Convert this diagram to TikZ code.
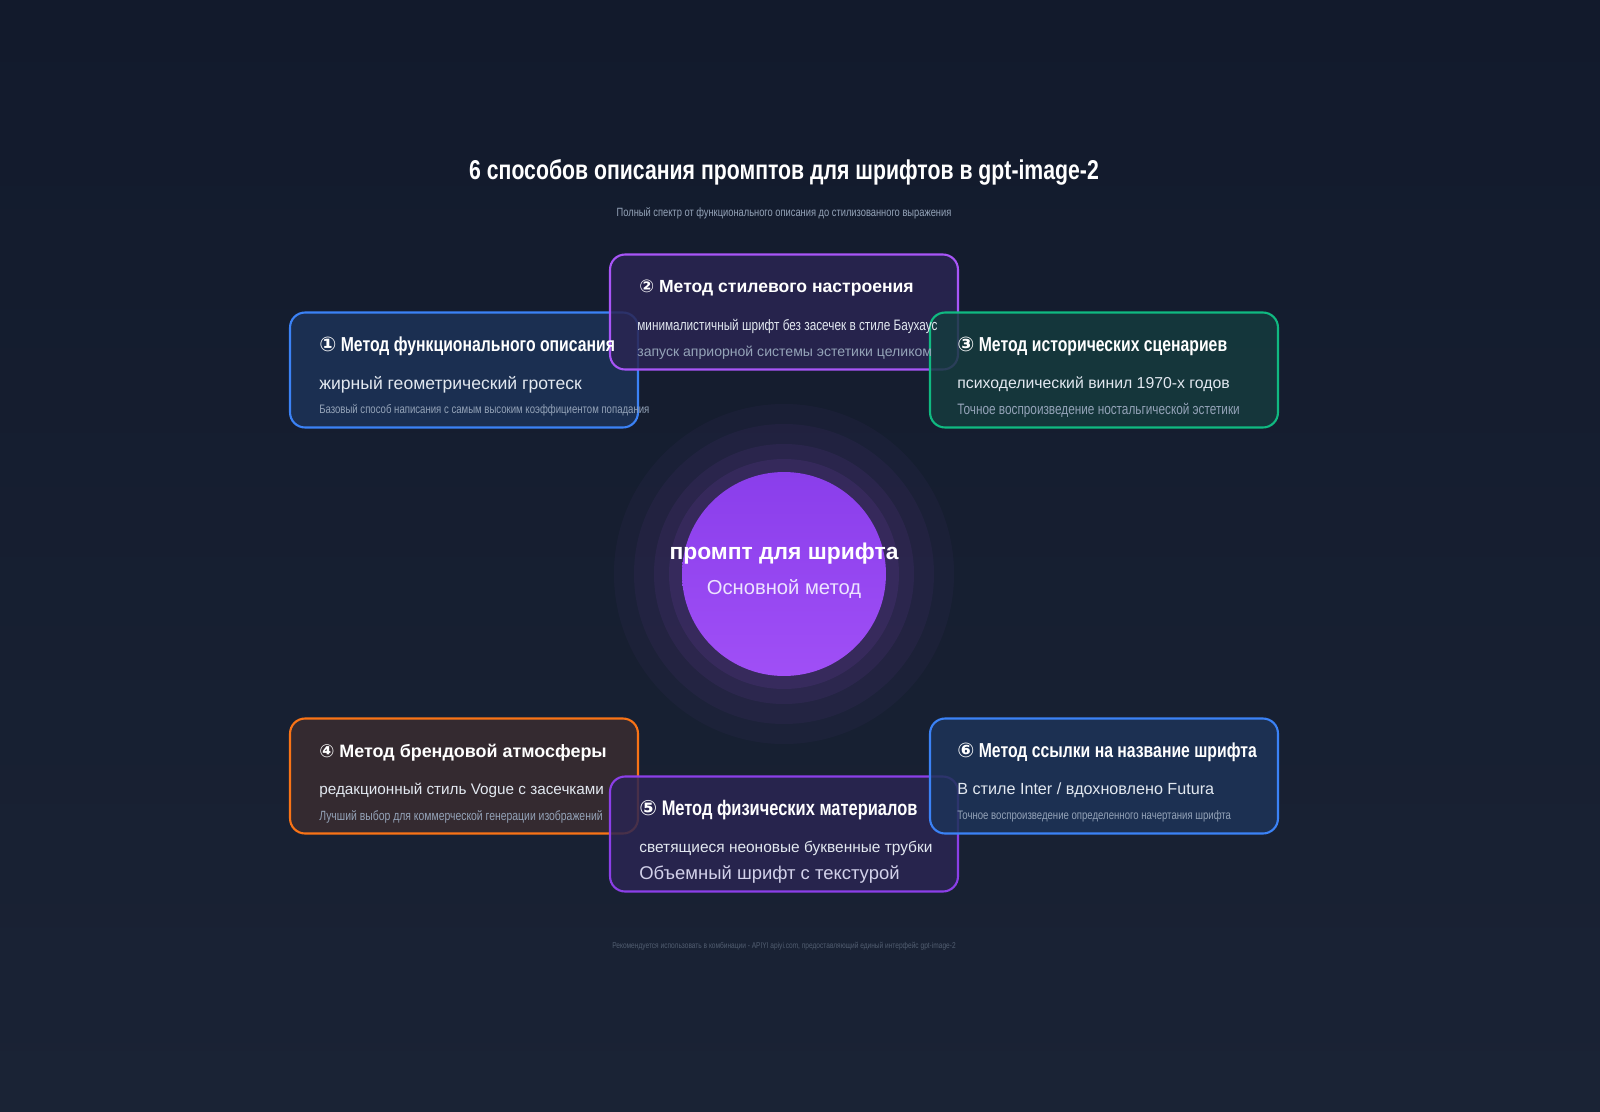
\documentclass[tikz,border=0pt]{standalone}
\usepackage{fontspec}
\setmainfont{Liberation Sans}
\newfontfamily\condf[FakeStretch=0.78]{Liberation Sans}
\newfontfamily\symf{DejaVu Sans}
\usetikzlibrary{calc,positioning,backgrounds}
\definecolor{bgtop}{HTML}{121A2C}
\definecolor{bgbot}{HTML}{1A2335}
\definecolor{linkc}{HTML}{4B5A70}
\definecolor{subc}{HTML}{94A3B8}
\definecolor{mainc}{HTML}{E2E8F0}
\definecolor{cblue}{HTML}{3B82F6}
\definecolor{cpurple}{HTML}{A855F7}
\definecolor{cviolet}{HTML}{8B3FE8}
\definecolor{cgreen}{HTML}{10B981}
\definecolor{corange}{HTML}{F97316}
\definecolor{fblue}{HTML}{1D3358}
\definecolor{fpurple}{HTML}{2A2552}
\definecolor{fgreen}{HTML}{153B3E}
\definecolor{forange}{HTML}{3A2C30}
\definecolor{hubtop}{HTML}{8A3EEB}
\definecolor{hubbot}{HTML}{A04FF6}
\definecolor{hubtext}{HTML}{EDE4FF}
\begin{document}
\begin{tikzpicture}[x=0.02cm,y=-0.02cm,
  card/.style={rectangle,rounded corners=0.3cm,line width=1.2pt,minimum width=6.96cm,minimum height=2.3cm,inner sep=0},
  link/.style={color=linkc,line width=0.8pt,dash pattern=on 4pt off 4pt},
  head/.style={anchor=west,text=white,inner sep=0},
  body/.style={anchor=west,text=mainc,inner sep=0},
  note/.style={anchor=west,text=subc,inner sep=0}]
	%%background
	\useasboundingbox (0,0) rectangle (1600,1112);
	\shade [top color=bgtop,bottom color=bgbot] (0,0) rectangle (1600,1112);
	%%glow round the hub
	\foreach \r/\o in {170/0.04,150/0.05,130/0.07,115/0.09}
		\fill [cpurple,opacity=\o] (784,574) circle (\r);
	%%hub
	\node [circle,minimum size=4.08cm,top color=hubtop,bottom color=hubbot,inner sep=0] (hub) at (784,574) {};
	\node [text=white,font=\bfseries\fontsize{13}{15}\selectfont] (hubtitle) at (784,554) {промпт для шрифта};
	\node [text=hubtext,font=\fontsize{11.5}{14}\selectfont] (hubsub) at (784,589) {Основной метод};
	%%cards
	\node [card,draw=cblue,fill=fblue,fill opacity=0.85] (func) at (464,370) {};
	\node [card,draw=cpurple,fill=fpurple,fill opacity=0.85] (mood) at (784,312) {};
	\node [card,draw=cgreen,fill=fgreen,fill opacity=0.85] (hist) at (1104,370) {};
	\node [card,draw=corange,fill=forange,fill opacity=0.85] (brand) at (464,776) {};
	\node [card,draw=cviolet,fill=fpurple,fill opacity=0.85] (matl) at (784,834) {};
	\node [card,draw=cblue,fill=fblue,fill opacity=0.85] (fname) at (1104,776) {};
	%%links
	\begin{pgfonlayer}{background}
		\foreach \c in {func,mood,hist,brand,matl,fname}
			\draw [link] (hub) -- (\c);
	\end{pgfonlayer}
	%%title
	\node [text=white,font=\condf\bfseries\fontsize{15.5}{18}\selectfont] (title) at (784,172) {6 способов описания промптов для шрифтов в gpt-image-2};
	\node [text=subc,font=\condf\fontsize{6.8}{8}\selectfont] (subtitle) at (784,213) {Полный спектр от функционального описания до стилизованного выражения};
	%%card texts
	\node [head,font=\condf\bfseries\fontsize{11.5}{14}\selectfont] (funcA) at ($(func.north west)+(30,35)$) {{\symf ①} Метод функционального описания};
	\node [body,font=\fontsize{10}{12}\selectfont] (funcB) at ($(func.north west)+(30,73)$) {жирный геометрический гротеск};
	\node [note,font=\condf\fontsize{7}{9}\selectfont] (funcC) at ($(func.north west)+(30,99)$) {Базовый способ написания с самым высоким коэффициентом попадания};
	\node [head,font=\bfseries\fontsize{10}{12}\selectfont] (moodA) at ($(mood.north west)+(30,35)$) {{\symf ②} Метод стилевого настроения};
	\node [body,font=\condf\fontsize{8.6}{10}\selectfont] (moodB) at ($(mood.north west)+(28,73)$) {минималистичный шрифт без засечек в стиле Баухаус};
	\node [note,font=\fontsize{8}{10}\selectfont] (moodC) at ($(mood.north west)+(28,99)$) {запуск априорной системы эстетики целиком};
	\node [head,font=\condf\bfseries\fontsize{11.5}{14}\selectfont] (histA) at ($(hist.north west)+(28,35)$) {{\symf ③} Метод исторических сценариев};
	\node [body,font=\fontsize{9}{11}\selectfont] (histB) at ($(hist.north west)+(28,73)$) {психоделический винил 1970-х годов};
	\node [note,font=\condf\fontsize{8.6}{10}\selectfont] (histC) at ($(hist.north west)+(28,99)$) {Точное воспроизведение ностальгической эстетики};
	\node [head,font=\bfseries\fontsize{10.2}{12}\selectfont] (brandA) at ($(brand.north west)+(30,35)$) {{\symf ④} Метод брендовой атмосферы};
	\node [body,font=\fontsize{8.7}{10}\selectfont] (brandB) at ($(brand.north west)+(30,73)$) {редакционный стиль Vogue с засечками};
	\node [note,font=\condf\fontsize{7.6}{9}\selectfont] (brandC) at ($(brand.north west)+(30,99)$) {Лучший выбор для коммерческой генерации изображений};
	\node [head,font=\condf\bfseries\fontsize{12}{14}\selectfont] (matlA) at ($(matl.north west)+(30,35)$) {{\symf ⑤} Метод физических материалов};
	\node [body,font=\fontsize{8.8}{10}\selectfont] (matlB) at ($(matl.north west)+(30,73)$) {светящиеся неоновые буквенные трубки};
	\node [note,text=hubtext!70!subc,font=\fontsize{10.5}{12}\selectfont] (matlC) at ($(matl.north west)+(30,99)$) {Объемный шрифт с текстурой};
	\node [head,font=\condf\bfseries\fontsize{11.5}{14}\selectfont] (fnameA) at ($(fname.north west)+(28,35)$) {{\symf ⑥} Метод ссылки на название шрифта};
	\node [body,font=\fontsize{9.2}{11}\selectfont] (fnameB) at ($(fname.north west)+(28,73)$) {В стиле Inter / вдохновлено Futura};
	\node [note,font=\condf\fontsize{7}{9}\selectfont] (fnameC) at ($(fname.north west)+(28,99)$) {Точное воспроизведение определенного начертания шрифта};
	%%footer
	\node [text=subc!45!bgbot,font=\condf\fontsize{4.8}{6}\selectfont] (footer) at (784,946) {Рекомендуется использовать в комбинации - APIYI apiyi.com, предоставляющий единый интерфейс gpt-image-2};
\end{tikzpicture}
\end{document}
